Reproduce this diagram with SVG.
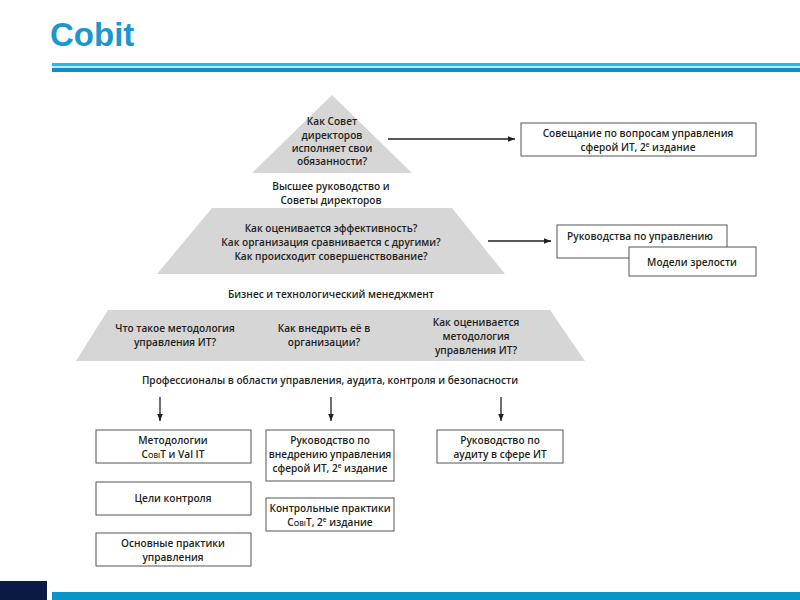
<svg xmlns="http://www.w3.org/2000/svg" width="800" height="600" viewBox="0 0 800 600">
<defs>
<marker id="ah" viewBox="0 0 10 10" refX="10" refY="5" markerWidth="7" markerHeight="7" markerUnits="userSpaceOnUse" orient="auto"><path d="M0,1 L10,5 L0,9 Z" fill="#231f20"/></marker>
<style>
.t{font-family:"Open Sans","Liberation Sans",sans-serif;font-weight:600;font-size:10.1px;fill:#231f20;text-anchor:middle}
.box{fill:#fff;stroke:#555;stroke-width:1}
.pyr{fill:#d6d6d6}
.sc{font-variant:small-caps}
.sup{font-size:6.5px}
.ln{stroke:#231f20;stroke-width:1.3;fill:none;marker-end:url(#ah)}
</style>
</defs>
<rect width="800" height="600" fill="#fff"/>
<text x="50" y="46" font-family="Liberation Sans, Arial, sans-serif" font-weight="bold" font-size="33" fill="#1a97cf">Cobit</text>
<rect x="52" y="63" width="748" height="3" fill="#2bb7e4"/>
<rect x="52" y="66" width="748" height="2" fill="#bfe9f7"/>
<rect x="52" y="68" width="748" height="4" fill="#0a8fc6"/>
<rect x="0" y="581" width="47" height="19" fill="#0b1a44"/>
<rect x="52" y="592" width="748" height="8" fill="#0a94c8"/>

<g id="level1">
<polygon class="pyr" points="332,95 412,173 252,173"/>
<text class="t" x="332" y="125">Как Совет</text>
<text class="t" x="332" y="139">директоров</text>
<text class="t" x="332" y="152">исполняет свои</text>
<text class="t" x="332" y="165">обязанности?</text>
</g>
<g id="label1"><text class="t" x="331" y="190">Высшее руководство и</text><text class="t" x="331" y="204">Советы директоров</text></g>

<g id="level2">
<polygon class="pyr" points="212,208 452,208 505,274 157,274"/>
<text class="t" x="331" y="232">Как оценивается эффективность?</text>
<text class="t" x="331" y="246">Как организация сравнивается с другими?</text>
<text class="t" x="331" y="260">Как происходит совершенствование?</text>
</g>
<g id="label2"><text class="t" x="331" y="298">Бизнес и технологический менеджмент</text></g>

<g id="level3">
<polygon class="pyr" points="108,310 550,310 585,361 76,361"/>
<text class="t" x="175" y="332">Что такое методология</text>
<text class="t" x="175" y="346">управления ИТ?</text>
<text class="t" x="324" y="332">Как внедрить её в</text>
<text class="t" x="324" y="346">организации?</text>
<text class="t" x="476" y="326">Как оценивается</text>
<text class="t" x="476" y="340">методология</text>
<text class="t" x="476" y="354">управления ИТ?</text>
</g>
<g id="label3"><text class="t" x="330" y="384">Профессионалы в области управления, аудита, контроля и безопасности</text></g>

<g id="connectors">
<line class="ln" x1="388" y1="139" x2="515" y2="139"/>
<line class="ln" x1="488" y1="241" x2="551" y2="241"/>
<line class="ln" x1="160" y1="397" x2="160" y2="421"/>
<line class="ln" x1="331" y1="397" x2="331" y2="421"/>
<line class="ln" x1="501" y1="397" x2="501" y2="421"/>
</g>

<g id="box-meeting"><rect class="box" x="521" y="123" width="235" height="33"/>
<text class="t" x="638" y="137">Совещание по вопросам управления</text>
<text class="t" x="638" y="151">сферой ИТ, 2<tspan class="sup" dy="-4">е</tspan><tspan dy="4"> издание</tspan></text></g>

<g id="box-guides"><rect class="box" x="557" y="225" width="170" height="33"/>
<text class="t" x="640" y="240">Руководства по управлению</text></g>
<g id="box-maturity"><rect class="box" x="629" y="247" width="127" height="29"/>
<text class="t" x="692" y="266">Модели зрелости</text></g>

<g id="box-methods"><rect class="box" x="96" y="430" width="155" height="33"/>
<text class="t" x="173" y="444">Методологии</text>
<text class="t" x="173" y="458"><tspan class="sc">CobiT</tspan> и Val IT</text></g>
<g id="box-goals"><rect class="box" x="96" y="482" width="155" height="33"/>
<text class="t" x="173" y="502">Цели контроля</text></g>
<g id="box-practices"><rect class="box" x="96" y="533" width="155" height="33"/>
<text class="t" x="173" y="547">Основные практики</text>
<text class="t" x="173" y="561">управления</text></g>

<g id="box-impl"><rect class="box" x="266" y="430" width="128" height="51"/>
<text class="t" x="330" y="444">Руководство по</text>
<text class="t" x="330" y="458">внедрению управления</text>
<text class="t" x="330" y="472">сферой ИТ, 2<tspan class="sup" dy="-4">е</tspan><tspan dy="4"> издание</tspan></text></g>
<g id="box-control"><rect class="box" x="266" y="498" width="128" height="33"/>
<text class="t" x="330" y="512">Контрольные практики</text>
<text class="t" x="330" y="526"><tspan class="sc">CobiT</tspan>, 2<tspan class="sup" dy="-4">е</tspan><tspan dy="4"> издание</tspan></text></g>

<g id="box-audit"><rect class="box" x="437" y="430" width="126" height="33"/>
<text class="t" x="500" y="444">Руководство по</text>
<text class="t" x="500" y="458">аудиту в сфере ИТ</text></g>
</svg>
